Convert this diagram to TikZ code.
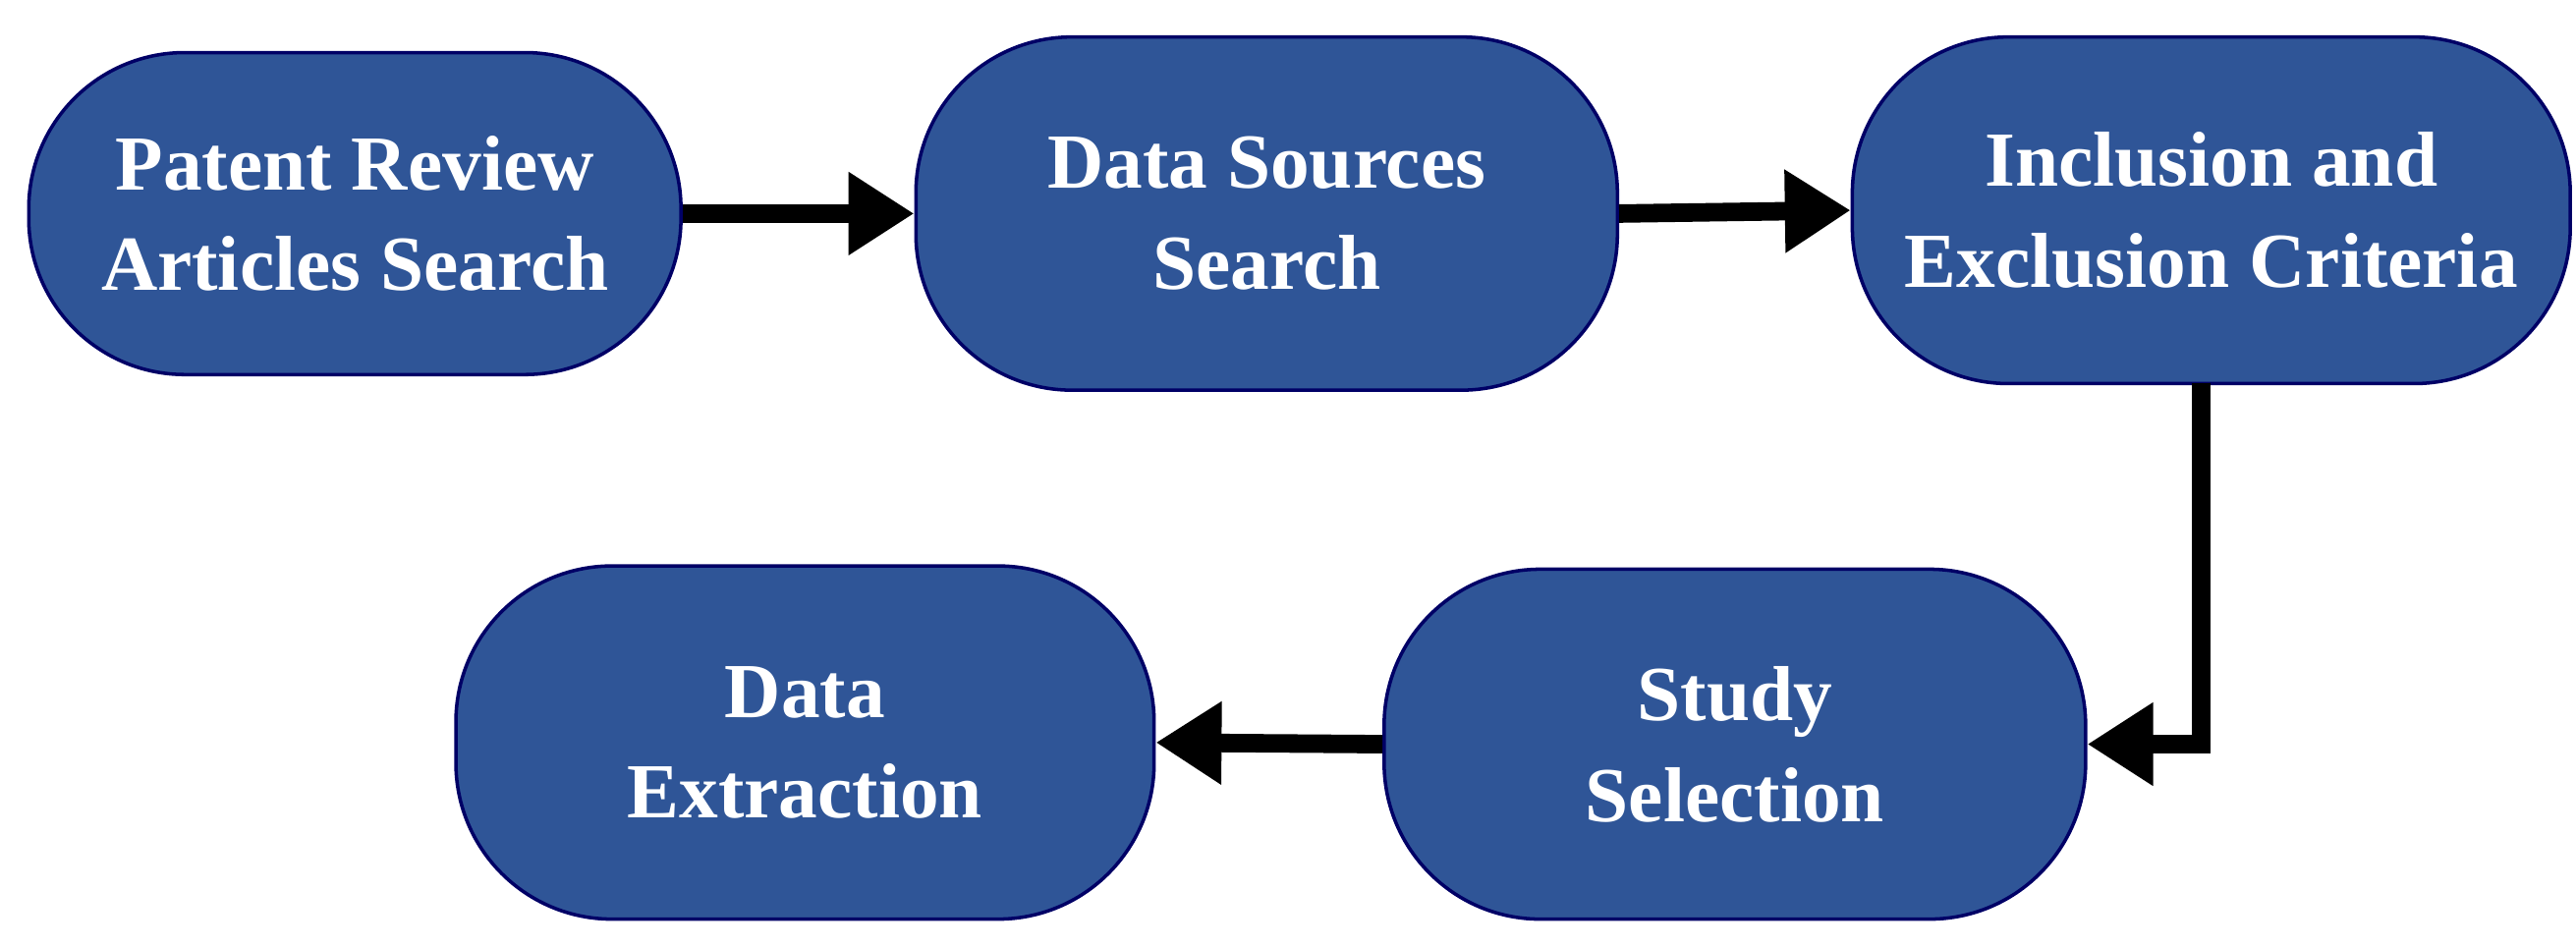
\documentclass[tikz,border=0pt]{standalone}
\usepackage{fontspec}
\setmainfont{Liberation Serif}
\usetikzlibrary{arrows.meta}
\begin{document}
\begin{tikzpicture}[x=1cm,y=1cm,
  box/.style={draw=blue!40!black,line width=0.6pt,fill={rgb,255:red,47;green,85;blue,151},rounded corners=0.95cm,text=white,font=\fontsize{13.5}{17.5}\selectfont\bfseries,align=center,inner sep=0pt},
  arr/.style={line width=3.2pt,-{Triangle[length=0.4cm,width=0.48cm]}}]
\useasboundingbox (0,0) rectangle (15.68,5.76);
\node[box,minimum width=3.97cm,minimum height=1.96cm] (a) at (2.16,4.46) {Patent Review\\Articles Search};
\node[box,minimum width=4.27cm,minimum height=2.15cm] (b) at (7.71,4.46) {Data Sources\\Search};
\node[box,minimum width=4.37cm,minimum height=2.11cm] (c) at (13.46,4.48) {Inclusion and\\Exclusion Criteria};
\node[box,minimum width=4.27cm,minimum height=2.13cm] (d) at (10.56,1.23) {Study\\Selection};
\node[box,minimum width=4.25cm,minimum height=2.15cm] (e) at (4.90,1.24) {Data\\Extraction};
\draw[arr] (a.east) -- (b.west);
\draw[arr] (b.east) -- (c.west);
\draw[arr] (13.40,3.43) |- (d.east);
\draw[arr] (d.west) -- (e.east);
\end{tikzpicture}
\end{document}
